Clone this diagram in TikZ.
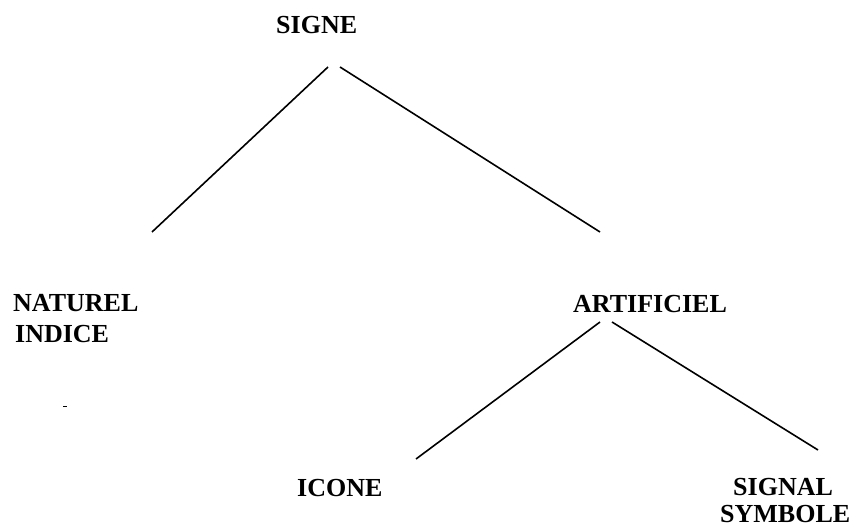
\documentclass[tikz,border=0pt]{standalone}
\usepackage{fontspec}
\setmainfont{Liberation Serif}
\begin{document}
\begin{tikzpicture}[x=1pt,y=-1pt,
  lbl/.style={inner sep=0pt,anchor=base west,font=\fontsize{26}{30}\selectfont\bfseries},
  branch/.style={line width=1.6pt,line cap=butt}]
\useasboundingbox (0,0) rectangle (853,529);
% labels
\node[lbl] (signe) at (276,34) {SIGNE};
\node[lbl] (naturel) at (13,311) {NATUREL};
\node[lbl] (indice) at (15,342) {INDICE};
\node[lbl] (artificiel) at (573,312) {ARTIFICIEL};
\node[lbl] (icone) at (297,496) {ICONE};
\node[lbl] (signal) at (733,495) {SIGNAL};
\node[lbl] (symbole) at (720,522) {SYMBOLE};
% line ends
\coordinate (s1) at (328,67);
\coordinate (n1) at (152,232);
\coordinate (s2) at (340,67);
\coordinate (a1) at (600,232);
\coordinate (a2) at (600,322);
\coordinate (i1) at (416,459);
\coordinate (a3) at (612,322);
\coordinate (g1) at (818,450);
\coordinate (d1) at (63,406);
\coordinate (d2) at (67,406);
% connectors
\draw[branch] (s1) -- (n1);
\draw[branch] (s2) -- (a1);
\draw[branch] (a2) -- (i1);
\draw[branch] (a3) -- (g1);
\draw[line width=1pt] (d1) -- (d2);
\end{tikzpicture}
\end{document}
